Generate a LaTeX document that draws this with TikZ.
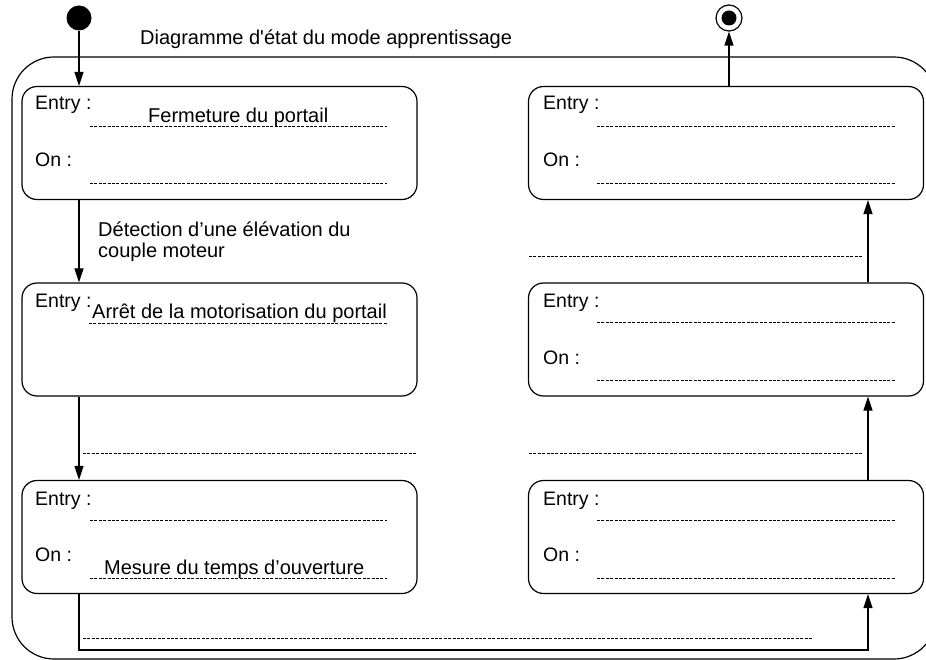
\documentclass[tikz,border=0pt]{standalone}
\usepackage{fontspec}
\setmainfont{Liberation Sans}
\usetikzlibrary{arrows.meta}
\begin{document}
\begin{tikzpicture}[x=1pt,y=-1pt,
  stbox/.style={draw, line width=1.2pt, rounded corners=15pt, minimum width=395pt, minimum height=113pt, inner sep=0pt},
  lbl/.style={anchor=base west, inner sep=0pt, font=\fontsize{19.5}{22}\selectfont},
  txt/.style={anchor=base west, inner sep=0pt, font=\fontsize{20}{22}\selectfont},
  dl/.style={dash pattern=on 3pt off 1.4pt, line width=0.9pt},
  arr/.style={line width=1.2pt, -{Triangle[length=14pt,width=9pt]}},
  ln/.style={line width=1.2pt}]
\useasboundingbox (0,0) rectangle (926,660);
% outer composite state
\draw[ln, rounded corners=42pt] (12,57) rectangle (936,659);
\node[txt] (title) at (140,45) {Diagramme d\textquotesingle état du mode apprentissage};
% pseudo states
\node[circle, fill=black, minimum size=25pt, inner sep=0pt] (init) at (79,18) {};
\node[circle, draw, line width=1.2pt, minimum size=26pt, inner sep=0pt] (fin) at (729,18) {};
\node[circle, fill=black, minimum size=15pt, inner sep=0pt] (findot) at (729,18) {};
% states
\node[stbox] (b1) at (219.5,143) {};
\node[stbox] (b2) at (219.5,339.5) {};
\node[stbox] (b3) at (219.5,537) {};
\node[stbox] (r1) at (726,143) {};
\node[stbox] (r2) at (726,339.5) {};
\node[stbox] (r3) at (726,537) {};
\coordinate (rx) at (868,0);
% box 1
\node[lbl] (b1e) at (35,110) {Entry :};
\node[txt] (b1t) at (148,123) {Fermeture du portail};
\draw[dl] (90,126) -- (387,126);
\node[lbl] (b1o) at (35,167) {On :};
\draw[dl] (90,183) -- (387,183);
% box 2
\node[lbl] (b2e) at (35,307) {Entry :};
\node[txt] (b2t) at (92,318) {Arrêt de la motorisation du portail};
\draw[dl] (89,323) -- (387,323);
% box 3
\node[lbl] (b3e) at (35,505) {Entry :};
\draw[dl] (90,520) -- (387,520);
\node[lbl] (b3o) at (35,561) {On :};
\node[txt] (b3t) at (104,574) {Mesure du temps d’ouverture};
\draw[dl] (90,578) -- (387,578);
% right boxes
\node[lbl] (r1e) at (543,110) {Entry :};
\draw[dl] (597,126) -- (895,126);
\node[lbl] (r1o) at (543,167) {On :};
\draw[dl] (597,183) -- (895,183);
\node[lbl] (r2e) at (543,307) {Entry :};
\draw[dl] (597,322) -- (895,322);
\node[lbl] (r2o) at (543,364) {On :};
\draw[dl] (597,380) -- (895,380);
\node[lbl] (r3e) at (543,505) {Entry :};
\draw[dl] (597,520) -- (895,520);
\node[lbl] (r3o) at (543,561) {On :};
\draw[dl] (597,578) -- (895,578);
% transitions left
\draw[arr] (init) -- (b1.north -| init);
\draw[arr] (b1.south -| init) -- (b2.north -| init);
\node[txt] (t1a) at (98,237) {Détection d’une élévation du};
\node[txt] (t1b) at (98,258) {couple moteur};
\draw[arr] (b2.south -| init) -- (b3.north -| init);
\draw[dl] (83,453) -- (417,453);
% bottom transition
\coordinate (bc) at (79,650);
\draw[arr] (b3.south -| init) -- (bc) -| (r3.south -| rx);
\draw[dl] (83,638) -- (813,638);
% transitions right
\draw[arr] (r3.north -| rx) -- (r2.south -| rx);
\draw[dl] (529,453) -- (863,453);
\draw[arr] (r2.north -| rx) -- (r1.south -| rx);
\draw[dl] (529,256) -- (863,256);
\draw[arr] (r1.north -| fin) -- (fin);
\end{tikzpicture}
\end{document}
